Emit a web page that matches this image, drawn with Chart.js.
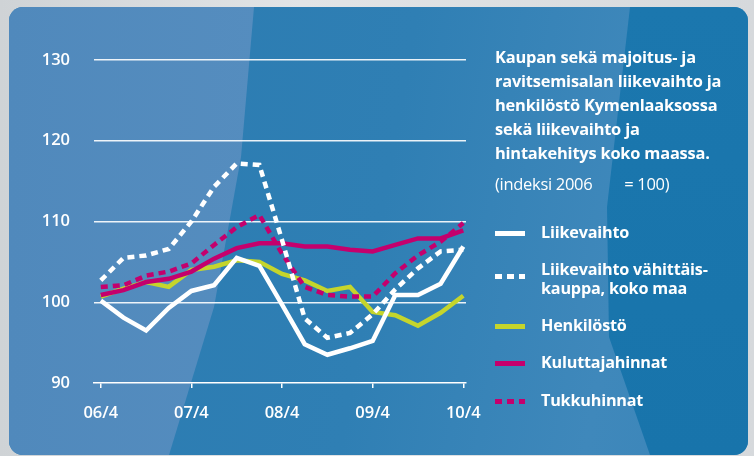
<!DOCTYPE html>
<html>
<head>
<meta charset="utf-8">
<script src="https://cdn.jsdelivr.net/npm/chart.js@4"></script>
<style>
  html, body { margin: 0; padding: 0; }
  body { width: 754px; height: 456px; overflow: hidden; position: relative;
         background: linear-gradient(90deg, #cfd3d6 0%, #e2e4e6 40%, #d6d9dc 100%);
         font-family: "Open Sans", sans-serif; }
  #panel { position: absolute; left: 9px; top: 7px; width: 739px; height: 448px;
           border-radius: 14px; overflow: hidden;
           background: linear-gradient(100deg, #2a7bb1 0%, #2f7fb4 50%, #3f88bb 80%, #3a85b9 100%); }
  .band { position: absolute; left: 0; top: 0; width: 100%; height: 100%; }
  #b1 { background: linear-gradient(90deg, #5089bc 0%, #5990c1 60%, #4f8cbf 100%);
        clip-path: polygon(0 0, 245px 0, 232px 150px, 205px 300px, 160px 448px, 0 448px); }
  #b2 { background: linear-gradient(180deg, #1b77ae, #1874ab);
        clip-path: polygon(621px 0, 739px 0, 739px 448px, 641px 448px, 600px 330px, 598px 200px); }
  #wrap { position: absolute; left: 0; top: 0; width: 754px; height: 456px; }
  #side { position: absolute; left: 495px; top: 45px; color: #fff; width: 259px; }
  #title { font-weight: 700; font-size: 16.4px; line-height: 24px; letter-spacing: -0.2px; }
  #note { font-size: 16.5px; margin-top: 7px; white-space: pre; letter-spacing: -0.3px; }
  #legend { position: absolute; left: 495px; top: 223px; color: #fff; }
  .item { position: relative; font-weight: 700; font-size: 16.2px; line-height: 19px; letter-spacing: -0.2px; }
  .item span { position: absolute; left: 0; width: 30px; height: 0; }
  .item div { margin-left: 46px; }
</style>
</head>
<body>
<div id="panel">
  <div class="band" id="b1"></div>
  <div class="band" id="b2"></div>
</div>
<div id="wrap"><canvas id="chart" width="754" height="456"></canvas></div>
<div id="side">
  <div id="title">Kaupan sekä majoitus- ja<br>ravitsemisalan liikevaihto ja<br>henkilöstö Kymenlaaksossa<br>sekä liikevaihto ja<br>hintakehitys koko maassa.</div>
  <div id="note">(indeksi 2006        = 100)</div>
</div>
<div id="legend"></div>
<script>
// quarters 2006/4 .. 2010/4
const quarters = ['06/4','07/1','07/2','07/3','07/4','08/1','08/2','08/3','08/4',
                  '09/1','09/2','09/3','09/4','10/1','10/2','10/3','10/4']
const tickQuarters = ['06/4','07/4','08/4','09/4','10/4']

const liikevaihto = [100.2, 98.1, 96.5, 99.3, 101.4, 102.1, 105.5, 104.5, 99.7, 94.8, 93.5, 94.3, 95.2, 100.9, 100.9, 102.3, 106.9]
const vahittais   = [102.7, 105.5, 105.8, 106.6, 110.0, 114.3, 117.2, 117.0, 107.7, 98.0, 95.6, 96.2, 98.5, 101.6, 104.2, 106.3, 106.5]
const henkilosto  = [100.7, 101.7, 102.5, 101.9, 104.0, 104.4, 105.2, 105.0, 103.5, 102.7, 101.4, 101.9, 98.8, 98.4, 97.1, 98.7, 100.8]
const kuluttaja   = [100.9, 101.5, 102.5, 102.9, 103.8, 105.4, 106.7, 107.3, 107.3, 106.9, 106.9, 106.5, 106.3, 107.1, 107.9, 107.9, 108.9]
const tukku       = [101.9, 102.1, 103.3, 103.8, 104.8, 107.1, 109.3, 110.8, 106.0, 101.9, 100.9, 100.7, 100.7, 103.6, 105.8, 107.5, 109.8]

const WHITE = '#ffffff'
const GREEN = '#c5d52c'
const MAGENTA = '#c4006d'

const series = [
    {name: ['Liikevaihto'], data: liikevaihto, color: WHITE, dash: [], order: 3},
    {name: ['Liikevaihto vähittäis-', 'kauppa, koko maa'], data: vahittais, color: WHITE, dash: [7,5], order: 1},
    {name: ['Henkilöstö'], data: henkilosto, color: GREEN, dash: [], order: 5},
    {name: ['Kuluttajahinnat'], data: kuluttaja, color: MAGENTA, dash: [], order: 4},
    {name: ['Tukkuhinnat'], data: tukku, color: MAGENTA, dash: [7,5], order: 2}
]

// legend in html
const legendTops = [0, 37, 93, 130, 168]
const leg = document.getElementById('legend')
series.forEach((s, i) => {
    const it = document.createElement('div')
    it.className = 'item'
    it.style.position = 'absolute'
    it.style.top = legendTops[i] + 'px'
    it.style.width = '260px'
    const sw = document.createElement('span')
    sw.style.top = (s.name.length > 1 ? 14 : 8) + 'px'
    sw.style.height = '5px'
    if (s.dash.length) {
        sw.style.background = `repeating-linear-gradient(90deg, ${s.color} 0 7px, transparent 7px 12px)`
    } else {
        sw.style.background = s.color
    }
    it.appendChild(sw)
    const tx = document.createElement('div')
    tx.innerHTML = s.name.join('<br>')
    it.appendChild(tx)
    leg.appendChild(it)
})

const tickFont = {family: '"Open Sans", sans-serif', size: 16.5, weight: '600'}

const ctx = document.getElementById('chart').getContext('2d')
const chart = new Chart(ctx, {
    type: 'line',
    data: {
        datasets: series.map(s => ({
            label: s.name.join(' '),
            data: s.data.map((v, i) => ({x: i, y: v})),
            borderColor: s.color,
            borderWidth: 4.5,
            borderDash: s.dash,
            borderJoinStyle: 'miter',
            pointRadius: 0,
            tension: 0,
            fill: false,
            order: s.order
        }))
    },
    options: {
        responsive: false,
        animation: false,
        layout: {padding: {left: 0, top: 60, right: 288, bottom: 0}},
        plugins: {legend: {display: false}, tooltip: {enabled: false}},
        scales: {
            x: {
                type: 'linear',
                min: -0.3,
                max: 16.12,
                afterBuildTicks: scale => {
                    scale.ticks = tickQuarters.map(q => ({value: quarters.indexOf(q)}))
                },
                afterFit: scale => { scale.height = 73 },
                ticks: {
                    color: WHITE,
                    font: tickFont,
                    padding: 15,
                    maxRotation: 0,
                    callback: v => quarters[v]
                },
                grid: {
                    drawOnChartArea: false,
                    drawTicks: true,
                    tickLength: 5,
                    color: WHITE,
                    lineWidth: 1.5
                },
                border: {display: true, color: WHITE, width: 1.5}
            },
            y: {
                min: 90,
                max: 130,
                afterFit: scale => { scale.width = 94 },
                ticks: {
                    stepSize: 10,
                    color: WHITE,
                    font: tickFont,
                    padding: 24
                },
                grid: {
                    color: ctx => ctx.tick.value === 90 ? 'rgba(0,0,0,0)' : 'rgba(255,255,255,0.9)',
                    lineWidth: 1.5,
                    drawTicks: false
                },
                border: {display: false}
            }
        }
    }
})
</script>
</body>
</html>
